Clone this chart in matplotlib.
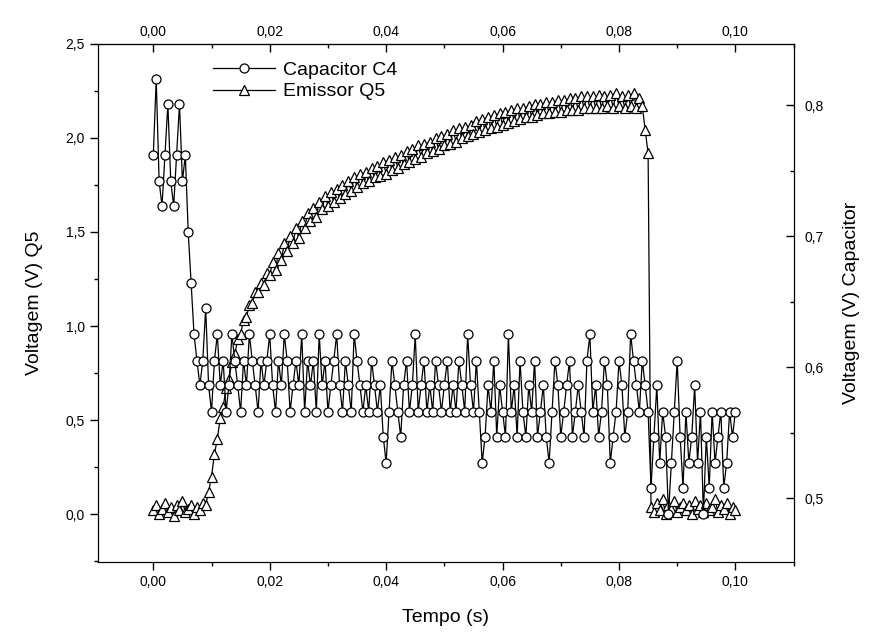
import numpy as np
import matplotlib.pyplot as plt
from matplotlib.ticker import MultipleLocator, FuncFormatter

plt.rcParams['font.family'] = ['Liberation Sans', 'DejaVu Sans']

# Emissor Q5 (left axis, V), sampled every 0.5 ms from 0 to 0.1 s
emissor_q5 = [
    0.02, 0.05, 0.00, 0.03, 0.06, 0.01, 0.04, -0.01, 0.05, 0.02, 0.07, 0.01, 0.03, 0.05, 0.00, 0.04, 0.02, 0.06,
    0.05, 0.12, 0.20, 0.32, 0.40, 0.51, 0.57, 0.67, 0.72, 0.81, 0.85, 0.93, 0.96, 1.03, 1.05, 1.11, 1.12, 1.18,
    1.18, 1.23, 1.22, 1.28, 1.27,
    1.34, 1.30, 1.39, 1.35, 1.44, 1.40, 1.48, 1.44, 1.52, 1.47, 1.56, 1.52, 1.60, 1.56, 1.63, 1.58, 1.66, 1.62,
    1.69, 1.64,
    1.71, 1.66, 1.73, 1.68, 1.75, 1.70, 1.77, 1.72, 1.79, 1.74, 1.81, 1.76, 1.82, 1.77, 1.84, 1.79, 1.85, 1.80,
    1.87, 1.81, 1.88, 1.83,
    1.90, 1.84, 1.91, 1.86, 1.93, 1.87, 1.94, 1.89, 1.96, 1.90, 1.97, 1.92, 1.98, 1.93, 2.00, 1.94, 2.01, 1.96,
    2.02,
    1.97, 2.04, 1.98, 2.05, 2.00, 2.06, 2.01, 2.07, 2.02, 2.09, 2.03, 2.10, 2.04, 2.11, 2.05, 2.12, 2.06, 2.13,
    2.07, 2.14, 2.08, 2.15, 2.09,
    2.16, 2.10, 2.16, 2.11, 2.17, 2.11, 2.18, 2.12, 2.18, 2.13, 2.19, 2.13, 2.19, 2.14, 2.20, 2.14, 2.20, 2.15,
    2.21, 2.15, 2.21, 2.15, 2.22, 2.16, 2.22, 2.16,
    2.22, 2.16, 2.23, 2.16, 2.22, 2.17, 2.23, 2.16, 2.24, 2.17, 2.22, 2.16, 2.23, 2.17, 2.24, 2.16, 2.21, 2.17,
    2.04, 1.92,
    0.04, 0.01, 0.06, 0.02, 0.08, 0.00, 0.05, 0.03, 0.07, 0.01, 0.04, 0.06, 0.02, 0.05, 0.00, 0.07, 0.03, 0.05,
    0.01, 0.06, 0.02, 0.04, 0.08, 0.01, 0.05, 0.03, 0.06, 0.00, 0.04, 0.02,
]

# Capacitor C4 (right axis, V), same time base
capacitor_c4 = [
    0.762, 0.820, 0.742, 0.723, 0.762, 0.801, 0.742, 0.723, 0.762, 0.801, 0.742, 0.762,
    0.703, 0.664, 0.625,
    0.605, 0.586, 0.605, 0.645, 0.586, 0.566, 0.605, 0.625, 0.586, 0.605,
    0.566, 0.586, 0.625, 0.605, 0.586, 0.566, 0.605, 0.586, 0.625, 0.605,
    0.586, 0.566, 0.605, 0.586, 0.605, 0.625, 0.586, 0.566, 0.605, 0.586,
    0.625, 0.605, 0.566, 0.586, 0.605, 0.586, 0.625, 0.566, 0.605, 0.586,
    0.605, 0.566, 0.625, 0.586, 0.605, 0.566, 0.586, 0.605, 0.625, 0.586,
    0.566, 0.605, 0.586, 0.566, 0.625, 0.605, 0.586, 0.566,
    0.586, 0.566, 0.605, 0.586, 0.566, 0.586, 0.547, 0.527,
    0.566, 0.605, 0.586, 0.566, 0.547, 0.586, 0.605, 0.566, 0.586, 0.625,
    0.566, 0.586, 0.605, 0.566, 0.586, 0.566, 0.605, 0.586, 0.566, 0.586,
    0.605, 0.566, 0.586, 0.566, 0.605, 0.586, 0.566, 0.625,
    0.586, 0.566, 0.605, 0.566, 0.527,
    0.547, 0.586, 0.566, 0.605, 0.547, 0.586, 0.566, 0.547, 0.625,
    0.566, 0.586, 0.547, 0.605, 0.566, 0.547, 0.586, 0.566, 0.605, 0.547, 0.566, 0.586, 0.547, 0.527,
    0.566, 0.605, 0.586, 0.547, 0.566, 0.586, 0.605, 0.547, 0.566, 0.586, 0.566, 0.547, 0.605, 0.625,
    0.566, 0.586, 0.547, 0.566, 0.605, 0.586, 0.527,
    0.547, 0.566, 0.605, 0.586, 0.547, 0.566, 0.625,
    0.605, 0.586, 0.566, 0.605, 0.586,
    0.566, 0.508, 0.547, 0.586, 0.527, 0.566, 0.547, 0.488, 0.527, 0.566,
    0.605, 0.547, 0.508, 0.566, 0.527, 0.547, 0.586, 0.527, 0.566, 0.488,
    0.547, 0.508, 0.566, 0.527, 0.547, 0.566, 0.508, 0.527, 0.566, 0.547, 0.566,
]

tempo = np.linspace(0.0, 0.1, len(emissor_q5))


def virgula(dec):
    return FuncFormatter(lambda v, p: f"{v:.{dec}f}".replace('.', ','))


fig = plt.figure(figsize=(8.75, 6.44), dpi=100)
ax = fig.add_axes([0.112, 0.127, 0.795, 0.805])
ax2 = ax.twinx()

ax.plot(tempo, emissor_q5, color='black', lw=0.9, marker='^', ms=6.5,
        mfc='white', mec='black', mew=0.9, label='Emissor Q5')
ax2.plot(tempo, capacitor_c4, color='black', lw=0.9, marker='o', ms=6.5,
         mfc='white', mec='black', mew=0.9, label='Capacitor C4')

ax.set_xlim(-0.0095, 0.110)
ax.set_ylim(-0.255, 2.5)
ax2.set_ylim(0.451, 0.847)

ax.xaxis.set_major_locator(MultipleLocator(0.02))
ax.xaxis.set_minor_locator(MultipleLocator(0.01))
ax.yaxis.set_major_locator(MultipleLocator(0.5))
ax.yaxis.set_minor_locator(MultipleLocator(0.25))
ax2.yaxis.set_major_locator(MultipleLocator(0.1))
ax2.yaxis.set_minor_locator(MultipleLocator(0.05))

ax.xaxis.set_major_formatter(virgula(2))
ax.yaxis.set_major_formatter(virgula(1))
ax2.yaxis.set_major_formatter(virgula(1))

ax.tick_params(which='major', direction='out', length=6, width=1, labelsize=10)
ax.tick_params(which='minor', direction='out', length=3, width=1)
ax2.tick_params(which='major', direction='in', length=6, width=1, labelsize=10, pad=8)
ax2.tick_params(which='minor', direction='in', length=3, width=1)

top = ax.secondary_xaxis('top')
top.xaxis.set_major_locator(MultipleLocator(0.02))
top.xaxis.set_minor_locator(MultipleLocator(0.01))
top.xaxis.set_major_formatter(virgula(2))
top.tick_params(which='major', direction='in', length=6, width=1, labelsize=10)
top.tick_params(which='minor', direction='in', length=3, width=1)

ax.set_xlabel('Tempo (s)', fontsize=14, labelpad=14)
ax.set_ylabel('Voltagem (V) Q5', fontsize=14, labelpad=16)
ax2.set_ylabel('Voltagem (V) Capacitor', fontsize=14, labelpad=14)

h2, l2 = ax2.get_legend_handles_labels()
h1, l1 = ax.get_legend_handles_labels()
ax2.legend(h2 + h1, l2 + l1, loc='upper left', bbox_to_anchor=(0.14, 1.0),
           frameon=False, fontsize=14, handlelength=3.2, handletextpad=0.4,
           labelspacing=0.2)

fig.savefig('out.png', dpi=100)
